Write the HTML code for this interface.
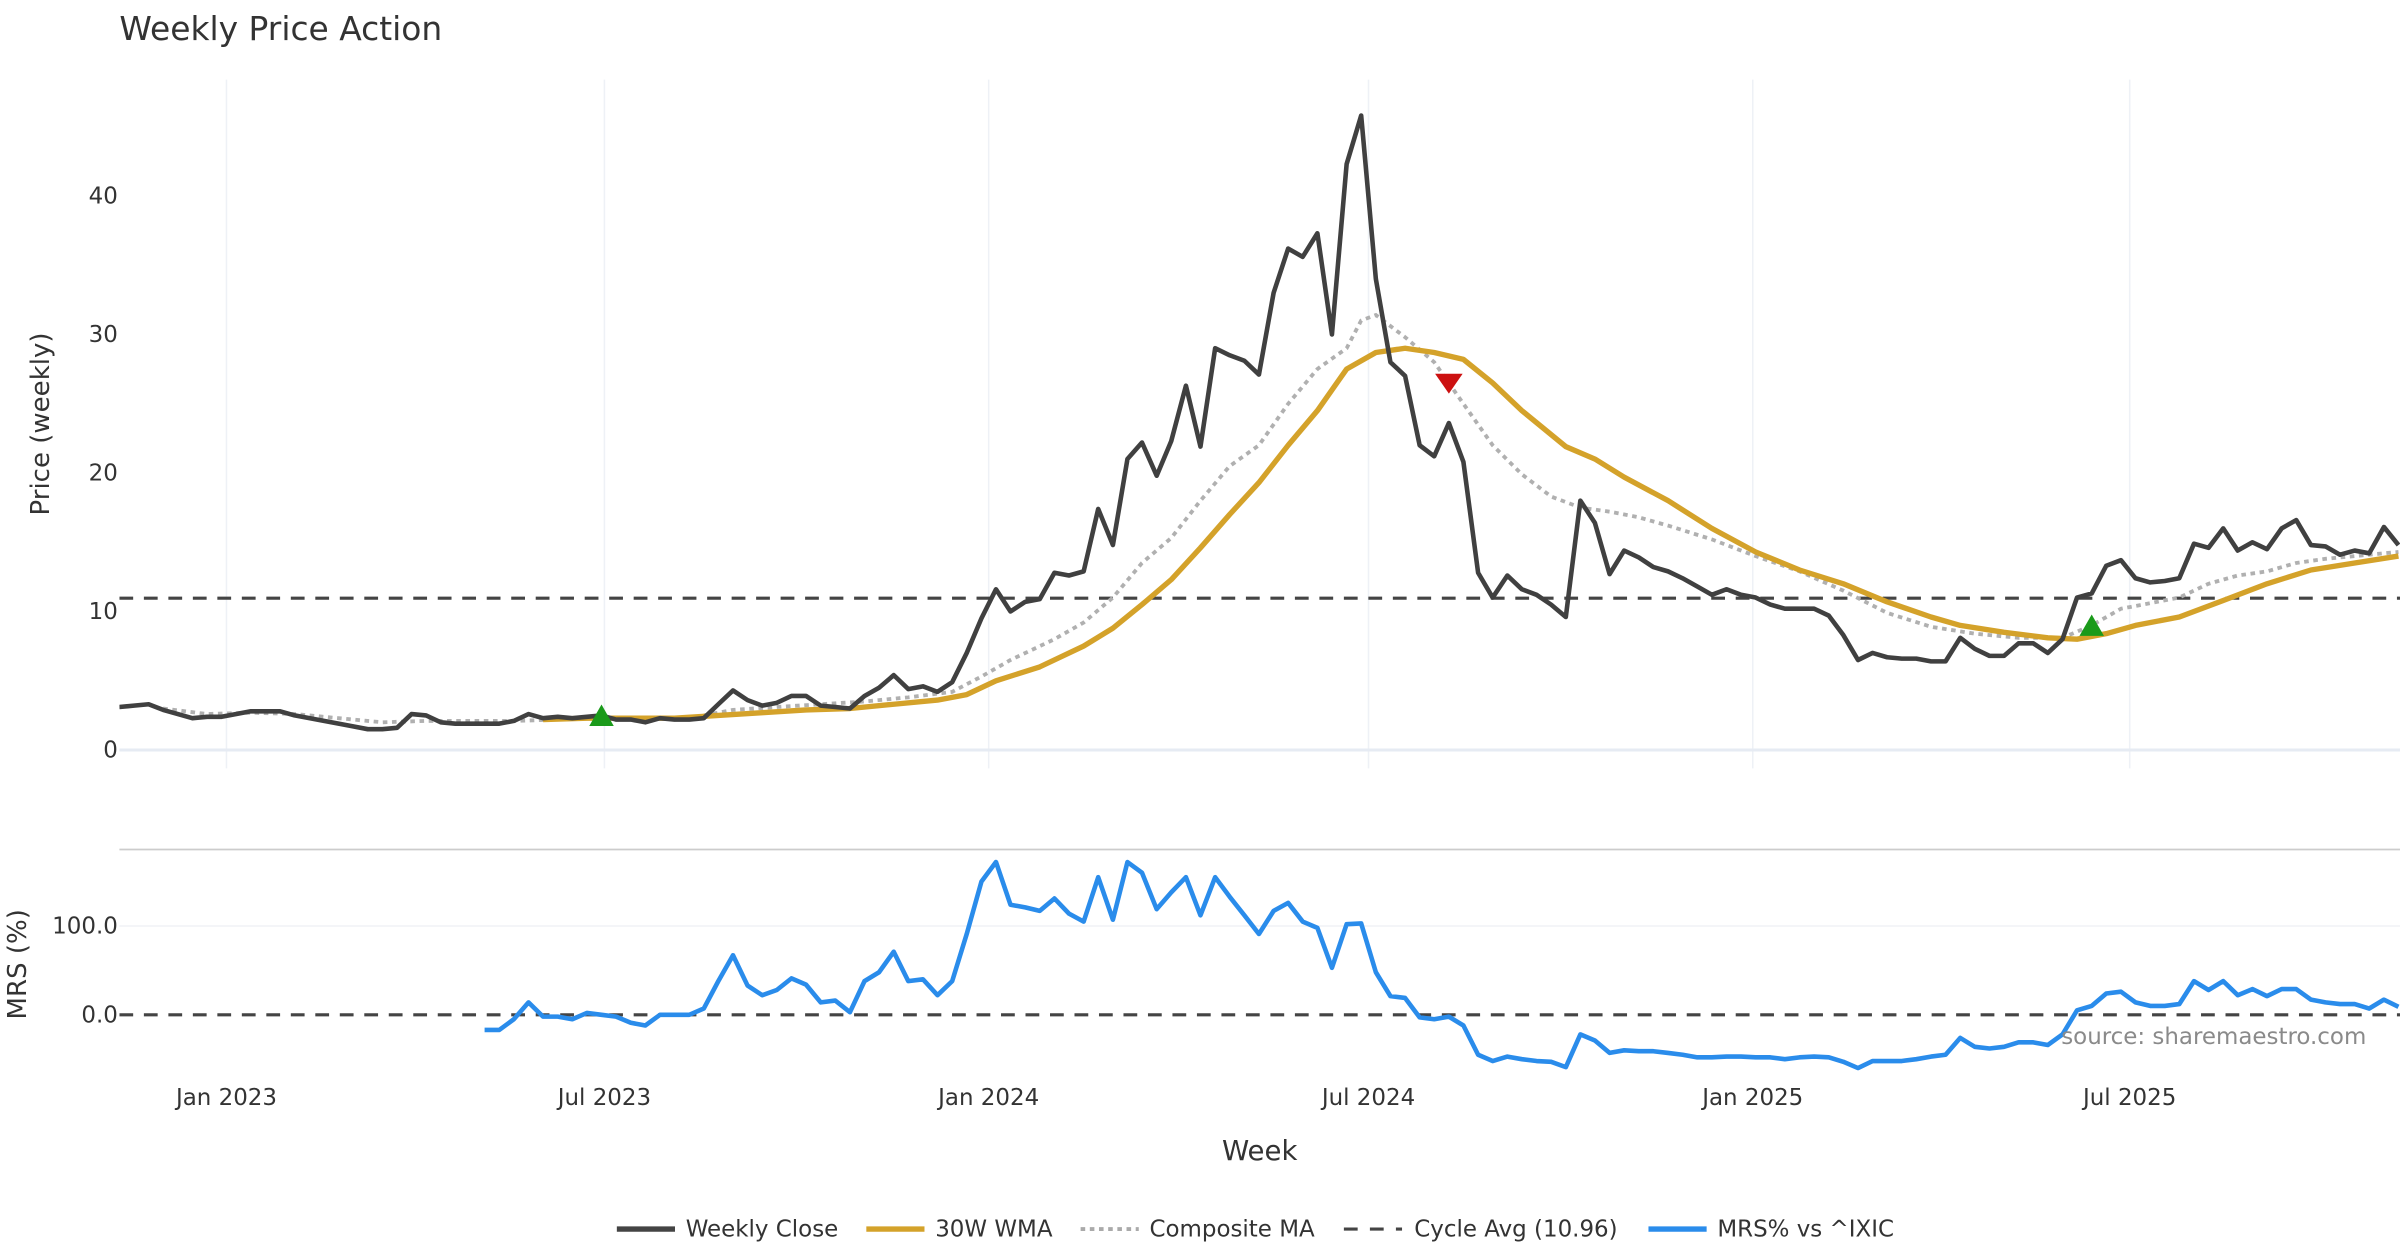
<!DOCTYPE html>
<html><head><meta charset="utf-8"><style>
html,body{margin:0;padding:0;background:#fff;}
svg{display:block;font-family:"DejaVu Sans","Liberation Sans",sans-serif;}
</style></head><body>
<svg id="chart" width="2400" height="1260" viewBox="0 0 1568 823.2" xmlns="http://www.w3.org/2000/svg">
<defs>
<clipPath id="cp"><rect x="78" y="52" width="1490" height="450"/></clipPath>
<clipPath id="cm"><rect x="78" y="556" width="1490" height="150"/></clipPath>
</defs>
<text x="78" y="26" font-size="21.5" fill="#333">Weekly Price Action</text>
<g id="grid"></g>
<g id="price" clip-path="url(#cp)"></g>
<g id="mrs" clip-path="url(#cm)"></g>
<g id="axes"></g>
<text transform="translate(32,277) rotate(-90)" text-anchor="middle" font-size="17" fill="#333">Price (weekly)</text>
<text transform="translate(17,630) rotate(-90)" text-anchor="middle" font-size="17" fill="#333">MRS (%)</text>
<text x="823" y="758" text-anchor="middle" font-size="18" fill="#333">Week</text>
<text x="1546" y="682" text-anchor="end" font-size="15" fill="#8a8a8a">source: sharemaestro.com</text>
<g id="legend" font-size="15" fill="#333">
<g><line x1="403" y1="803" x2="441" y2="803" stroke="#444" stroke-width="3.5"/><text x="448" y="808">Weekly Close</text></g>
<g><line x1="566" y1="803" x2="604" y2="803" stroke="#d4a22a" stroke-width="3.5"/><text x="611" y="808">30W WMA</text></g>
<g><line x1="706" y1="803" x2="744" y2="803" stroke="#aaa" stroke-width="2.5" stroke-dasharray="3,3"/><text x="751" y="808">Composite MA</text></g>
<g><line x1="878" y1="803" x2="916" y2="803" stroke="#444" stroke-width="2" stroke-dasharray="9,8"/><text x="924" y="808">Cycle Avg (10.96)</text></g>
<g><line x1="1077" y1="803" x2="1115" y2="803" stroke="#2a8ceb" stroke-width="3.5"/><text x="1122" y="808">MRS% vs ^IXIC</text></g>
</g>
</svg>
<script>
const closeValues=[3.1,3.2,3.3,2.9,2.6,2.3,2.4,2.4,2.6,2.8,2.8,2.8,2.5,2.3,2.1,1.9,1.7,1.5,1.5,1.6,2.6,2.5,2.0,1.9,1.9,1.9,1.9,2.1,2.6,2.3,2.4,2.3,2.4,2.5,2.2,2.2,2.0,2.3,2.2,2.2,2.3,3.3,4.3,3.6,3.2,3.4,3.9,3.9,3.2,3.1,3.0,3.9,4.5,5.4,4.4,4.6,4.2,4.9,7.0,9.5,11.6,10.0,10.7,10.9,12.8,12.6,12.9,17.4,14.8,21.0,22.2,19.8,22.3,26.3,21.9,29.0,28.5,28.1,27.1,33.0,36.2,35.6,37.3,30.0,42.3,45.8,34.0,28.0,27.0,22.0,21.2,23.6,20.8,12.8,11.0,12.6,11.6,11.2,10.5,9.6,18.0,16.4,12.7,14.4,13.9,13.2,12.9,12.4,11.8,11.2,11.6,11.2,11.0,10.5,10.2,10.2,10.2,9.7,8.3,6.5,7.0,6.7,6.6,6.6,6.4,6.4,8.1,7.3,6.8,6.8,7.7,7.7,7.0,8.0,11.0,11.3,13.3,13.7,12.4,12.1,12.2,12.4,14.9,14.6,16.0,14.4,15.0,14.5,16.0,16.6,14.8,14.7,14.1,14.4,14.2,16.1,14.8];
const wmaWeeks=[29,32,35,38,41,44,47,50,53,56,58,60,63,66,68,70,72,74,76,78,80,82,84,86,88,90,92,94,96,99,101,103,106,109,112,115,118,121,124,126,129,132,134,136,138,141,144,147,150,153,156];
const wmaValues=[2.2,2.3,2.3,2.3,2.5,2.7,2.9,3.0,3.3,3.6,4.0,5.0,6.0,7.5,8.8,10.5,12.3,14.6,17.0,19.3,22.0,24.5,27.5,28.7,29.0,28.7,28.2,26.5,24.5,21.9,21.0,19.7,18.0,16.0,14.3,13.0,12.0,10.7,9.6,9.0,8.5,8.1,8.0,8.4,9.0,9.6,10.8,12.0,13.0,13.5,14.0];
const compWeeks=[3,6,9,12,15,18,21,24,27,30,33,36,39,42,45,48,51,54,57,59,61,64,66,68,70,72,74,76,78,80,82,84,85,86,88,90,92,94,96,98,100,102,104,106,109,112,115,118,121,124,127,130,133,135,137,139,141,143,145,147,149,151,153,156];
const compValues=[3.0,2.6,2.7,2.6,2.3,2.0,2.1,2.1,2.1,2.2,2.3,2.3,2.3,2.9,3.1,3.3,3.5,3.8,4.2,5.3,6.5,8.0,9.2,11.0,13.5,15.3,18.0,20.5,22.0,25.0,27.5,29.0,31.0,31.4,29.8,28.0,25.0,22.0,19.9,18.3,17.5,17.2,16.8,16.2,15.2,14.0,12.9,11.5,9.9,8.9,8.4,8.1,8.1,9.0,10.2,10.6,11.0,12.0,12.6,12.9,13.5,13.8,14.0,14.3];
const cycleAvg=10.96;
const mrsStartWeek=25;
const mrsValues=[-17,-17,-5,14,-2,-2,-5,2,0,-2,-9,-12,0,0,0,7,38,67,33,22,28,41,34,14,16,3,38,48,71,38,40,22,38,91,150,172,124,121,117,131,114,105,155,107,172,160,119,138,155,112,155,133,112,91,117,126,105,98,53,102,103,48,21,19,-3,-5,-2,-12,-45,-52,-47,-50,-52,-53,-59,-22,-29,-43,-40,-41,-41,-43,-45,-48,-48,-47,-47,-48,-48,-50,-48,-47,-48,-53,-60,-52,-52,-52,-50,-47,-45,-26,-36,-38,-36,-31,-31,-34,-22,5,10,24,26,14,10,10,12,38,28,38,22,29,21,29,29,17,14,12,12,7,17,9];
const buyWeeks=[33,135];
const buyValues=[2.4,8.9];
const sellWeeks=[91];
const sellValues=[26.5];
const priceTicks=[0,10,20,30,40];
const mrsTicks=[0,100];
const mrsTickLabels=["0.0","100.0"];
const xTickWeeks=[7.33,33.2,59.5,85.5,111.8,137.6];
const xTickLabels=["Jan 2023","Jul 2023","Jan 2024","Jul 2024","Jan 2025","Jul 2025"];

const NS="http://www.w3.org/2000/svg";
const X=w=>78+w*9.545;
const Y=v=>490-v*9.05;
const YM=v=>663-v*0.58;
function mk(tag,attrs,parent){const e=document.createElementNS(NS,tag);for(const k in attrs)e.setAttribute(k,attrs[k]);parent.appendChild(e);return e;}
const grid=document.getElementById('grid'),price=document.getElementById('price'),mrs=document.getElementById('mrs'),axes=document.getElementById('axes');
xTickWeeks.forEach((w,i)=>{
  let g=mk('line',{x1:X(w),x2:X(w),y1:52,y2:502,stroke:'#eef1f6','stroke-width':1},grid);
  
  
  let t=mk('text',{x:X(w),y:722,'text-anchor':'middle','font-size':15,fill:'#333'},axes);
  t.textContent=xTickLabels[i];
  
  
});
priceTicks.forEach(v=>{
  if(v===0){let z=mk('line',{x1:78,x2:1568,y1:Y(0),y2:Y(0),stroke:'#e6ebf3','stroke-width':2},grid);
    
    }
  let t=mk('text',{x:77,y:Y(v)+5,'text-anchor':'end','font-size':15,fill:'#333'},axes);
  t.textContent=String(v);
  
  
});
let sep=mk('line',{x1:78,x2:1568,y1:555,y2:555,stroke:'#cccccc','stroke-width':1.2},grid);


mrsTicks.forEach((v,i)=>{
  if(v!==0){let g=mk('line',{x1:78,x2:1568,y1:YM(v),y2:YM(v),stroke:'#f0f2f6','stroke-width':1},grid);
    
    }
  let t=mk('text',{x:77,y:YM(v)+5,'text-anchor':'end','font-size':15,fill:'#333'},axes);
  t.textContent=mrsTickLabels[i];
  
  
});
function pathFrom(ws,vs,yf){return ws.map((w,i)=>(i?'L':'M')+X(w).toFixed(1)+','+yf(vs[i]).toFixed(1)).join(' ');}
const idx=closeValues.map((_,i)=>i);
let cyc=mk('line',{x1:78,x2:1568,y1:Y(cycleAvg),y2:Y(cycleAvg),stroke:'#444','stroke-width':2,'stroke-dasharray':'9,7'},price);


let pc=mk('path',{d:pathFrom(compWeeks,compValues,Y),fill:'none',stroke:'#b0b0b0','stroke-width':2.5,'stroke-dasharray':'3,3'},price);


let pw=mk('path',{d:pathFrom(wmaWeeks,wmaValues,Y),fill:'none',stroke:'#d4a22a','stroke-width':3.5,'stroke-linejoin':'round'},price);


let pcl=mk('path',{d:pathFrom(idx,closeValues,Y),fill:'none',stroke:'#404040','stroke-width':3,'stroke-linejoin':'round'},price);


buyWeeks.forEach((w,i)=>{const x=X(w),y=Y(buyValues[i]);
  let m=mk('path',{d:`M${x-8},${y+6} L${x+8},${y+6} L${x},${y-8} Z`,fill:'#1a9a1a'},price);
  
  });
sellWeeks.forEach((w,i)=>{const x=X(w),y=Y(sellValues[i]);
  let m=mk('path',{d:`M${x-9},${y-6} L${x+9},${y-6} L${x},${y+7} Z`,fill:'#cc1111'},price);
  
  });
let z0=mk('line',{x1:78,x2:1568,y1:YM(0),y2:YM(0),stroke:'#444','stroke-width':2,'stroke-dasharray':'9,7'},mrs);


const mw=mrsValues.map((_,i)=>mrsStartWeek+i);
let pm=mk('path',{d:pathFrom(mw,mrsValues,YM),fill:'none',stroke:'#2a8ceb','stroke-width':3,'stroke-linejoin':'round'},mrs);


</script>
</body></html>
